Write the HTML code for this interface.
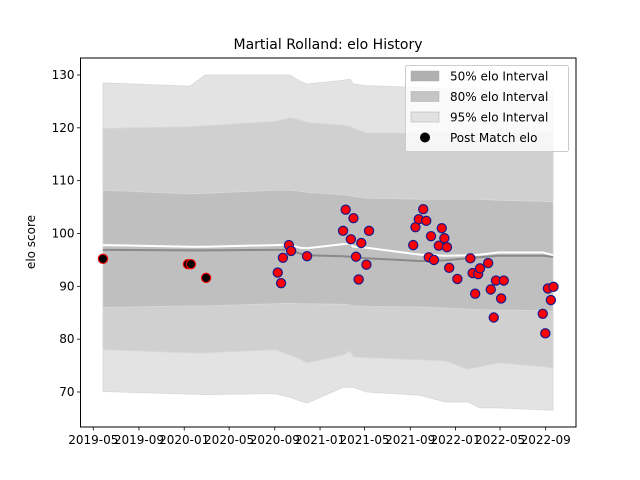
<!DOCTYPE html>
<html><head><meta charset="utf-8"><style>
body{margin:0;background:#fff;}
svg{display:block;font-family:"DejaVu Sans","Liberation Sans",sans-serif;}
</style></head><body>
<svg id="chart" width="640" height="480" viewBox="0 0 640 480">
<rect width="640" height="480" fill="#fff"/>
<g id="plot"></g>
<text x="328" y="49" font-size="14" text-anchor="middle">Martial Rolland: elo History</text>
<text transform="translate(35,242) rotate(-90)" font-size="12" text-anchor="middle">elo score</text>
</svg>
<script>
const bandDates=["2019-05-27","2020-01-17","2020-02-26","2020-09-02","2020-10-12","2020-11-08","2020-11-27","2021-03-04","2021-03-23","2021-03-31","2021-05-07","2021-09-27","2021-12-04","2022-02-04","2022-03-08","2022-04-26","2022-08-25","2022-09-21"];
const p95hi=[128.5,127.9,130,130,130,128.8,128.3,129,129.2,128.3,128,127.6,127.5,127.4,127.3,127.2,127,127];
const p80hi=[119.9,120.2,120.4,121.2,121.9,121.5,121,120.5,120.3,120,119,119,119,119,119,119,119,119];
const p50hi=[108.2,107.5,107.6,108.2,108.2,108,107.8,107.3,107.2,107,106.7,106.5,106.5,106.5,106.5,106.3,106.1,106];
const median=[96.9,96.8,96.8,96.9,96.9,96.2,95.9,95.7,95.6,95.5,95.3,94.8,94.9,95.3,95.5,95.8,95.8,95.6];
const meanLine=[97.8,97.5,97.5,97.8,97.9,97.3,97.2,98.0,98.1,97.5,97.3,96.0,95.8,95.9,96.0,96.4,96.4,95.9];
const p50lo=[86.0,86.3,86.3,86.7,86.8,86.7,86.7,86.6,86.5,86.3,86.2,86.1,85.9,85.7,85.6,85.5,85.4,85.3];
const p80lo=[78,77.4,77.4,78,77,76.2,75.5,77.0,77.8,76.6,76.5,76.1,75.9,74.3,74.8,75.5,74.8,74.5];
const p95lo=[70.1,69.6,69.5,69.7,69.0,68.3,67.9,70.9,70.9,70.9,70.0,69.4,68.1,68.1,67.0,67.0,66.6,66.6];
const earlyDates=["2019-05-27","2020-01-11","2020-01-19","2020-02-29"];
const earlyElo=[95.2,94.2,94.2,91.6];
const matchDates=["2020-09-09","2020-09-18","2020-09-23","2020-10-09","2020-10-15","2020-11-27","2021-03-04","2021-03-11","2021-03-25","2021-04-01","2021-04-08","2021-04-15","2021-04-22","2021-05-06","2021-05-13","2021-09-09","2021-09-15","2021-09-24","2021-10-06","2021-10-14","2021-10-21","2021-10-27","2021-11-04","2021-11-17","2021-11-25","2021-12-02","2021-12-09","2021-12-15","2022-01-06","2022-02-10","2022-02-16","2022-02-23","2022-03-03","2022-03-08","2022-03-30","2022-04-06","2022-04-14","2022-04-20","2022-05-04","2022-05-11","2022-08-24","2022-08-31","2022-09-07","2022-09-15","2022-09-22"];
const matchElo=[92.6,90.6,95.4,97.8,96.7,95.7,100.5,104.5,98.9,102.9,95.6,91.3,98.2,94.1,100.5,97.8,101.2,102.7,104.6,102.4,95.5,99.5,95.0,97.7,101.0,99.1,97.4,93.5,91.4,95.3,92.5,88.6,92.3,93.4,94.4,89.4,84.1,91.1,87.7,91.1,84.8,81.1,89.6,87.4,89.9];
const xTickLabels=["2019-05","2019-09","2020-01","2020-05","2020-09","2021-01","2021-05","2021-09","2022-01","2022-05","2022-09"];
const yTickValues=[70,80,90,100,110,120,130];

const NS="http://www.w3.org/2000/svg";
const L=80.5,R=576,T=58,B=427;
const base=Date.UTC(2019,4,1);
function xs(d){const t=(Date.parse(d+"T00:00:00Z")-base)/86400000;return 93.3+t*0.37112;}
function xm(m){return xs(m+"-01");}
function ys(v){return 75+(130-v)*5.2833;}
const plot=document.getElementById('plot');
function mk(tag,attrs,parent){const e=document.createElementNS(NS,tag);for(const k in attrs)e.setAttribute(k,attrs[k]);(parent||plot).appendChild(e);return e;}
function band(hi,lo,fill,name){
  let d="";for(let i=0;i<bandDates.length;i++)d+=(i?"L":"M")+xs(bandDates[i]).toFixed(1)+","+ys(hi[i]).toFixed(1);
  for(let i=bandDates.length-1;i>=0;i--)d+="L"+xs(bandDates[i]).toFixed(1)+","+ys(lo[i]).toFixed(1);
  const p=mk('path',{d:d+"Z",fill:fill,stroke:"#d8d8d8","stroke-width":0.8});
  
  
}
band(p95hi,p95lo,"#e3e3e3","band-95");
band(p80hi,p80lo,"#d0d0d0","band-80");
band(p50hi,p50lo,"#bfbfbf","band-50");
function line(vals,color,name){
  const pts=bandDates.map((d,i)=>xs(d).toFixed(1)+","+ys(vals[i]).toFixed(1)).join(" ");
  const l=mk('polyline',{points:pts,fill:"none",stroke:color,"stroke-width":2});
  
  
}
line(median,"#8a8a8a","median-line");
line(meanLine,"#ffffff","mean-line");
earlyDates.forEach((d,i)=>{
  const c=mk('circle',{cx:xs(d),cy:ys(earlyElo[i]),r:4.6,fill:"#000",stroke:"#ee0000","stroke-width":1.2});
  
  
});
matchDates.forEach((d,i)=>{
  const c=mk('circle',{cx:xs(d),cy:ys(matchElo[i]),r:4.6,fill:"#ff0000",stroke:"#1a1a8c","stroke-width":1.2});
  
  
});
const fr=mk('rect',{x:L,y:T,width:R-L,height:B-T,fill:"none",stroke:"#000","stroke-width":1});


xTickLabels.forEach(m=>{
  const x=xm(m);
  const t=mk('line',{x1:x,x2:x,y1:B,y2:B+3.5,stroke:"#000","stroke-width":0.8});
  
  
  const tx=mk('text',{x:x,y:B+17,"font-size":12,"text-anchor":"middle"});
  tx.textContent=m;
  
  
});
yTickValues.forEach(v=>{
  const y=ys(v);
  const t=mk('line',{x1:L-3.5,x2:L,y1:y,y2:y,stroke:"#000","stroke-width":0.8});
  
  
  const tx=mk('text',{x:L-6,y:y+4,"font-size":12,"text-anchor":"end"});
  tx.textContent=v;
  
  
});
const lg=mk('g',{});


mk('rect',{x:405.5,y:65.5,width:163,height:86,rx:2,fill:"#fff","fill-opacity":0.8,stroke:"#ccc"},lg);
const items=[["50% elo Interval","#b0b0b0"],["80% elo Interval","#c5c5c5"],["95% elo Interval","#e2e2e2"],["Post Match elo",null]];
items.forEach((it,i)=>{
  const y=76+i*20.5;
  const g=mk('g',{},lg);
  
  
  if(it[1])mk('rect',{x:411,y:y-5,width:28,height:10,fill:it[1],stroke:"#aaa","stroke-width":0.5},g);
  else mk('circle',{cx:425,cy:y,r:5,fill:"#000"},g);
  const t=mk('text',{x:450,y:y+4.5,"font-size":12},g);
  t.textContent=it[0];
});
</script>
</body></html>
